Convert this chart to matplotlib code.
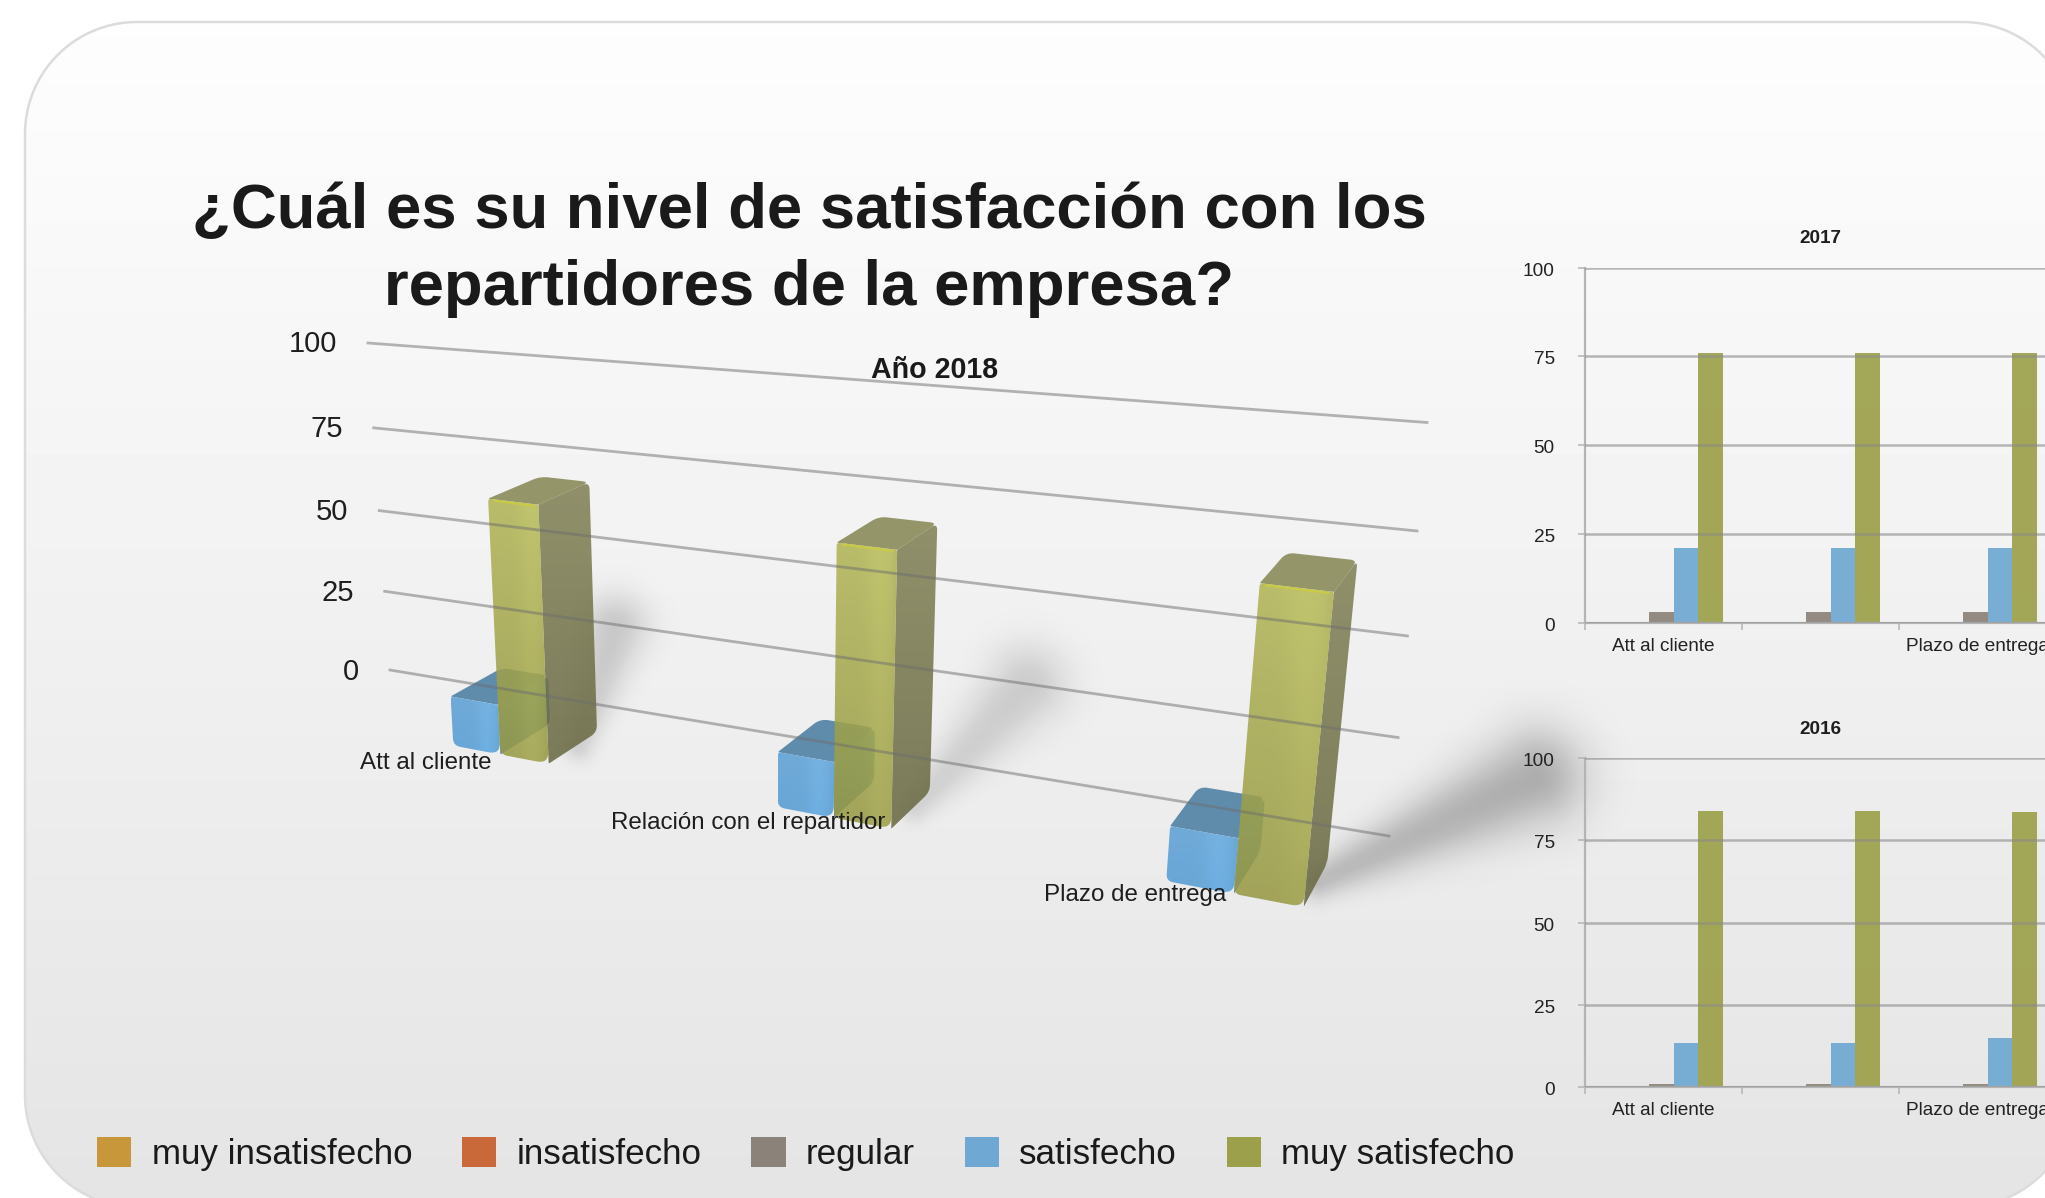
import numpy as np
import matplotlib
matplotlib.use("Agg")
import matplotlib.pyplot as plt
from matplotlib.patches import PathPatch, Patch, Polygon
from matplotlib.path import Path
from matplotlib.transforms import ScaledTranslation

plt.rcParams['font.family'] = ['Liberation Sans', 'DejaVu Sans']

# ---------- data ----------
categorias = ['Att al cliente', 'Relación con el repartidor', 'Plazo de entrega']
series = ['muy insatisfecho', 'insatisfecho', 'regular', 'satisfecho', 'muy satisfecho']
colores = ['#C79739', '#C96838', '#8B8379', '#6FA8D2', '#9CA04A']
titulo = '¿Cuál es su nivel de satisfacción con los\nrepartidores de la empresa?'
escala = [0, 25, 50, 75, 100]

satisfecho_2018 = [15.4, 16.0, 14.7]
muy_satisfecho_2018 = [76.5, 76.0, 78.5]

muy_insatisfecho_2017 = [0, 0, 0]
insatisfecho_2017 = [0, 0, 0]
regular_2017 = [3, 3, 3]
satisfecho_2017 = [21, 21, 21]
muy_satisfecho_2017 = [76, 76, 76]

muy_insatisfecho_2016 = [0, 0, 0]
insatisfecho_2016 = [0, 0, 0]
regular_2016 = [1, 1, 1]
satisfecho_2016 = [13.5, 13.5, 15]
muy_satisfecho_2016 = [84, 84, 83.5]

# ---------- layout ----------
W, H = 2045, 1198
fig = plt.figure(figsize=(W / 100, H / 100), dpi=100, facecolor='white')
ax = fig.add_axes([0, 0, 1, 1])
ax.set_xlim(0, W)
ax.set_ylim(H, 0)
ax.axis('off')
ax.autoscale(False)


def card_outline(x0, y0, x1, y1, r, n=40):
    corners = [(x1 - r, y0 + r, -90), (x1 - r, y1 - r, 0), (x0 + r, y1 - r, 90), (x0 + r, y0 + r, 180)]
    pts = []
    for cx, cy, start in corners:
        t = np.radians(np.linspace(start, start + 90, n))
        pts.append(np.column_stack([cx + r * np.cos(t), cy + r * np.sin(t)]))
    return np.vstack(pts)


# card background
outline = card_outline(25, 22, 2075, 1207, 112)
card = Polygon(outline, closed=True, facecolor='none', edgecolor='#dcdcdc', linewidth=1.8, zorder=2)
ax.add_patch(card)
grad = np.linspace(0.995, 0.895, 256).reshape(-1, 1)
im = ax.imshow(grad, cmap='gray', vmin=0, vmax=1, extent=(0, W, H, 0), aspect='auto', zorder=1)
im.set_clip_path(card)

# camera of the 3D chart (category, value, depth) -> pixel
CAM = np.array([[260.2967741245684, -0.4308891159045737, 69.94772320813799, 453.3465637463517],
                [-4.902362295324527, -3.5798652438977587, -2.7180078531999516, 745.5806409659614],
                [-0.08243366816452598, -0.0005575028206076804, 0.03822832367430396, 1.0]])


def cam(u, v, w):
    q = CAM @ np.array([u, v, w, 1.0])
    return q[:2] / q[2]


# back wall of the 3D chart: plane through its four corners
wall_src = [(0, 0), (3, 0), (0, 100), (3, 100)]
wall_dst = [(390, 670), (1389, 836), (368, 343), (1427, 422.5)]
A, b = [], []
for (u, v), (x, y) in zip(wall_src, wall_dst):
    A.append([u, v, 1, 0, 0, 0, -x * u, -x * v]); b.append(x)
    A.append([0, 0, 0, u, v, 1, -y * u, -y * v]); b.append(y)
WALL = np.append(np.linalg.solve(np.array(A, float), np.array(b, float)), 1).reshape(3, 3)


def wall(u, v):
    q = WALL @ np.array([u, v, 1.0])
    return q[:2] / q[2]


# soft shadows
yy, xx = np.mgrid[0:H:2, 0:W:2]
shade = np.zeros_like(xx, float)
BW = 0.156  # bar width in category units
shadow_style = [((36, -118), 15, 33, .17), ((112, -122), 15, 40, .15), ((218, -104), 18, 48, .27)]
for i, ((dx, dy), s0, s1, amax) in enumerate(shadow_style):
    a = cam(i + 2 * BW, 0, 0.6)
    c = a + np.array([dx, dy])
    seg = c - a
    t = np.clip(((xx - a[0]) * seg[0] + (yy - a[1]) * seg[1]) / (seg @ seg), 0, 1)
    dist = np.hypot(xx - a[0] - t * seg[0], yy - a[1] - t * seg[1])
    shade = np.maximum(shade, amax * (0.75 + 0.25 * t) * np.exp(-(dist / (s0 + (s1 - s0) * t)) ** 2))
layer = np.zeros(shade.shape + (4,))
layer[..., 3] = shade
ax.imshow(layer, extent=(0, W, H, 0), aspect='auto', zorder=3)


def rounded(pts, radii):
    pts = [np.array(p, float) for p in pts]
    n = len(pts)
    verts, codes = [], []
    for i in range(n):
        p, prev, nxt = pts[i], pts[i - 1], pts[(i + 1) % n]
        r = radii[i]
        a = p + (prev - p) * min(r / np.linalg.norm(prev - p), .45)
        c = p + (nxt - p) * min(r / np.linalg.norm(nxt - p), .45)
        verts += [a, p, c]
        codes += [Path.LINETO if i else Path.MOVETO, Path.CURVE3, Path.CURVE3]
    verts.append(verts[0]); codes.append(Path.CLOSEPOLY)
    return Path(np.array(verts), codes)


def face(pts, shader, z, radii):
    path = rounded(pts, radii)
    x0, y0 = path.vertices.min(axis=0)
    x1, y1 = path.vertices.max(axis=0)
    fy, fx = np.mgrid[0:1:128j, 0:1:64j]
    img = shader(fx, fy)
    artist = ax.imshow(img, extent=(x0, x1, y1, y0), aspect='auto', zorder=z, interpolation='bilinear')
    artist.set_clip_path(PathPatch(path, transform=ax.transData))


def shader(top, bottom, alpha, band=0.0):
    top, bottom = np.array(top, float), np.array(bottom, float)

    def f(fx, fy):
        rgb = top[None, None, :] + (bottom - top)[None, None, :] * fy[..., None]
        bump = 1 + band * np.exp(-((fx - .72) / .2) ** 2) - band * .7 * np.clip((fx - .9) / .1, 0, 1)
        rgb = np.clip(rgb * bump[..., None], 0, 255) / 255
        return np.dstack([rgb, np.full(fx.shape, alpha)])
    return f


def bar3d(u0, u1, val, front, side, roof, alpha, z, rim=None):
    fb0, fb1 = cam(u0, 0, 0), cam(u1, 0, 0)
    ft0, ft1 = cam(u0, val, 0), cam(u1, val, 0)
    bb1 = cam(u1, 0, 1)
    bt0, bt1 = cam(u0, val, 1), cam(u1, val, 1)
    face([ft1, bt1, bb1, fb1], shader(*side, alpha), z, [1, 7, 7, 1])
    face([ft0, bt0, bt1, ft1], shader(roof, roof, alpha), z + .1, [1, 8, 7, 1])
    face([ft0, ft1, fb1, fb0], shader(*front, alpha, band=.05), z + .2, [3, 2, 12, 7])
    if rim:
        ax.plot([ft0[0] + 6, ft1[0] - 5], [ft0[1] + 2, ft1[1] + 1], color=rim, lw=1.6, alpha=.8,
                solid_capstyle='round', zorder=z + .3)


for i in range(3):
    bar3d(i, i + BW, satisfecho_2018[i], ((112, 170, 216), (104, 166, 214)), ((100, 150, 190), (90, 140, 180)),
          (96, 140, 172), 1.0, 4)
    bar3d(i + BW, i + 2 * BW, muy_satisfecho_2018[i], ((176, 180, 84), (150, 152, 66)),
          ((128, 128, 84), (104, 104, 66)), (134, 134, 84), .86, 5, rim='#cdcd3c')

# gridlines and labels of the 3D chart
for v in escala:
    a, c = wall(0, v), wall(3, v)
    ax.plot([a[0], c[0]], [a[1], c[1]], color='#6e6e6e', alpha=.5, lw=2.0, zorder=7)
    ax.text(a[0] - 31, a[1] + 1.5, str(v), ha='right', va='center', fontsize=21, color='#1e1e1e', zorder=8)

cat_offsets = [(-75, 8), (-86, 5), (-99, 1)]
for i, c in enumerate(categorias):
    p = cam(i + BW, 0, 0)
    ox, oy = cat_offsets[i]
    ax.text(p[0] + ox, p[1] + oy, c, ha='center', va='center', fontsize=17.4, color='#1e1e1e', zorder=8)

ax.text(809, 250, titulo, ha='center', va='center', fontsize=45.7, fontweight='bold', color='#1a1a1a',
        linespacing=1.375, zorder=8)
ax.text(935, 370.5, 'Año 2018', ha='center', va='center', fontsize=20.6, fontweight='bold', color='#1a1a1a', zorder=8)


def mini(year, rect, vals):
    x0, ytop, w, ybot = rect
    a = fig.add_axes([x0 / W, 1 - ybot / H, w / W, (ybot - ytop) / H], zorder=5)
    a.patch.set_visible(False)
    x = np.arange(3)
    for k, (s, col) in enumerate(zip(series, colores)):
        a.bar(x + 0.102 + k * BW, vals[k], width=BW, align='edge', color=col, alpha=.92, zorder=2)
    a.set_xlim(0, 3)
    a.set_ylim(0, 100)
    a.set_yticks(escala)
    a.set_xticks([0, 1, 2, 3])
    a.set_xticklabels([])
    a.set_xticks([.5, 1.5, 2.5], minor=True)
    a.set_xticklabels([categorias[0], '', categorias[2]], minor=True)
    a.tick_params(axis='x', which='minor', length=0, pad=11, labelsize=13.7, labelcolor='#222222')
    a.tick_params(axis='x', which='major', length=5, width=1.1, color='#b4b4b4')
    a.tick_params(axis='y', length=5, width=1.1, color='#b4b4b4', pad=16.5, labelsize=13.7, labelcolor='#222222')
    nudge = ScaledTranslation(0, -1.2 / 72, fig.dpi_scale_trans)
    for lab in a.get_yticklabels():
        lab.set_transform(lab.get_transform() + nudge)
    a.grid(axis='y', color='#8a8a8a', alpha=.6, lw=1.8, zorder=3)
    a.set_axisbelow(False)
    for s in ('top', 'right'):
        a.spines[s].set_visible(False)
    for s in ('left', 'bottom'):
        a.spines[s].set_color('#b4b4b4')
        a.spines[s].set_linewidth(1.6)
    a.set_title(str(year), fontsize=13.6, fontweight='bold', color='#1e1e1e', pad=17.5)


mini(2017, (1584.5, 267.5, 471, 622.5),
     [muy_insatisfecho_2017, insatisfecho_2017, regular_2017, satisfecho_2017, muy_satisfecho_2017])
mini(2016, (1584.5, 758, 471, 1087),
     [muy_insatisfecho_2016, insatisfecho_2016, regular_2016, satisfecho_2016, muy_satisfecho_2016])

handles = [Patch(facecolor=c, label=s) for s, c in zip(series, colores)]
leg = fig.legend(handles=handles, ncol=5, loc='lower left', bbox_to_anchor=(97 / W, 1 - 1171 / H),
                 frameon=False, fontsize=25.2, handlelength=.98, handleheight=.98, handletextpad=.58,
                 columnspacing=1.42, borderpad=0, borderaxespad=0, labelcolor='#1a1a1a')

fig.savefig('out.png', dpi=100, facecolor='white')
